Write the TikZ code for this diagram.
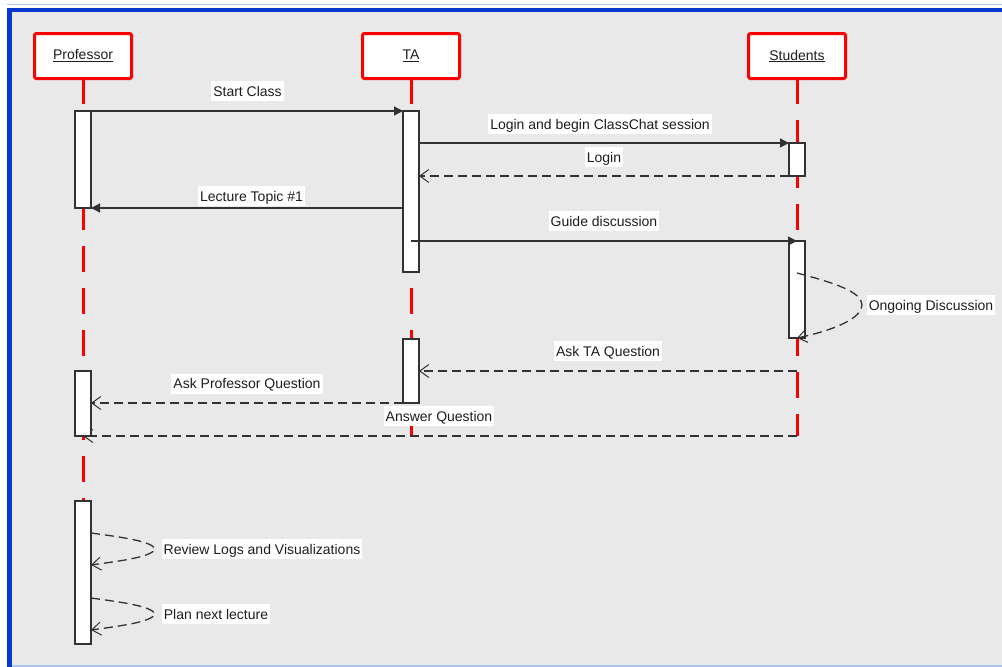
\documentclass[tikz,border=0pt]{standalone}
\usepackage{fontspec}
\setmainfont{Liberation Sans}
\usetikzlibrary{arrows.meta}
\definecolor{bgrey}{RGB}{233,233,233}
\definecolor{bblue}{RGB}{8,56,208}
\definecolor{lblue}{RGB}{175,195,240}
\definecolor{txt}{RGB}{30,30,30}
\definecolor{ln}{RGB}{50,50,50}
\newcommand{\fs}{\fontsize{14}{16}\selectfont}
\begin{document}
\begin{tikzpicture}[x=1pt,y=-1pt,
  actor/.style={draw=red, line width=3pt, fill=white, rounded corners=2pt, minimum width=97pt, minimum height=45pt, inner sep=0pt, font=\fs, text=txt},
  lifeline/.style={red, line width=3pt, dash pattern=on 26pt off 16pt, dash phase=2pt},
  act/.style={draw=ln, line width=1.2pt, fill=white, minimum width=16pt, inner sep=0pt, outer sep=0pt},
  msg/.style={draw=ln, line width=1.3pt, -{Triangle[length=9pt,width=9pt]}},
  ret/.style={draw=ln, line width=1.3pt, dash pattern=on 9pt off 5pt, -{Straight Barb[length=9pt,width=13pt,line width=1pt]}},
  lbl/.style={fill=white, text=txt, font=\fs, inner xsep=2pt, inner ysep=5pt, text height=10pt, text depth=0pt}
]
\useasboundingbox (0,0) rectangle (1002,667);
% frame
\fill[white] (0,0) rectangle (1002,667);
\draw[lblue, line width=1pt] (7,4.5) -- (1002,4.5);
\fill[bgrey] (12,11) rectangle (1002,665.5);
\draw[lblue, line width=1.2pt] (12,666) -- (1002,666);
\fill[bblue] (7,8) rectangle (1002,11.5);
\fill[bblue] (7,8) rectangle (12,667);

% actors
\node[actor] (prof) at (83,56) {\underline{Professor}};
\node[actor] (ta) at (411,56) {\underline{TA}};
\node[actor] (stu) at (797,56) {\underline{Students}};

% lifeline ends
\coordinate (profEnd) at (83,645);
\coordinate (taEnd) at (411,436);
\coordinate (stuEnd) at (797,436);

\draw[lifeline] (prof.south) -- (profEnd);
\draw[lifeline] (ta.south) -- (taEnd);
\draw[lifeline] (stu.south) -- (stuEnd);

% activations
\node[act, minimum height=97pt] (pa1) at (83,159.5) {};
\node[act, minimum height=161pt] (ta1) at (411,191.5) {};
\node[act, minimum height=33pt] (sa1) at (797,159.5) {};
\node[act, minimum height=97pt] (sa2) at (797,289.5) {};
\node[act, minimum height=64pt] (ta2) at (411,371) {};

% answer question (drawn beneath the professor activation)
\draw[ret] (stuEnd) -- (83,436) coordinate (ansEnd);

\node[act, minimum height=65pt] (pa2) at (83,403.5) {};
\node[act, minimum height=143pt] (pa3) at (83,572.5) {};

% messages
\draw[msg] (pa1.north east) -- (ta1.north west);
\draw[msg] (ta1.east |- sa1.north) -- (sa1.north west);
\draw[ret] (sa1.south west) -- (ta1.east |- sa1.south);
\draw[msg] (ta1.west |- pa1.south) -- (pa1.south east);
\draw[msg] (ta1.center |- sa2.north) -- (sa2.north);

\coordinate (od1) at (797,273);
\draw[ret] (od1) .. controls (835,283) and (862,292) .. (862,305) .. controls (862,318) and (835,330) .. (sa2.south);

\coordinate (askTA) at (797,371);
\draw[ret] (askTA) -- (ta2.east |- askTA);
\draw[ret] (ta2.south west) -- (pa2.east |- ta2.south);

\coordinate (rv1) at (91,533);
\coordinate (rv2) at (91,565);
\draw[ret] (rv1) .. controls (120,537) and (152,541) .. (155,549) .. controls (152,557) and (120,561) .. (rv2);
\coordinate (pl1) at (91,598);
\coordinate (pl2) at (91,630);
\draw[ret] (pl1) .. controls (120,602) and (152,606) .. (155,614) .. controls (152,622) and (120,626) .. (pl2);

% labels
\node[lbl] (lStart) at (247.5,91) {Start Class};
\node[lbl] (lLogin1) at (600,124) {Login and begin ClassChat session};
\node[lbl] (lLogin2) at (604,157) {Login};
\node[lbl] (lLect) at (251.5,196) {Lecture Topic \#1};
\node[lbl] (lGuide) at (604,221) {Guide discussion};
\node[lbl] (lOngo) at (931,305) {Ongoing Discussion};
\node[lbl] (lAskTA) at (608,351) {Ask TA Question};
\node[lbl] (lAskP) at (247,383.5) {Ask Professor Question};
\node[lbl] (lAns) at (439,416) {Answer Question};
\node[lbl] (lRev) at (262,549) {Review Logs and Visualizations};
\node[lbl] (lPlan) at (216,614) {Plan next lecture};
\end{tikzpicture}
\end{document}
